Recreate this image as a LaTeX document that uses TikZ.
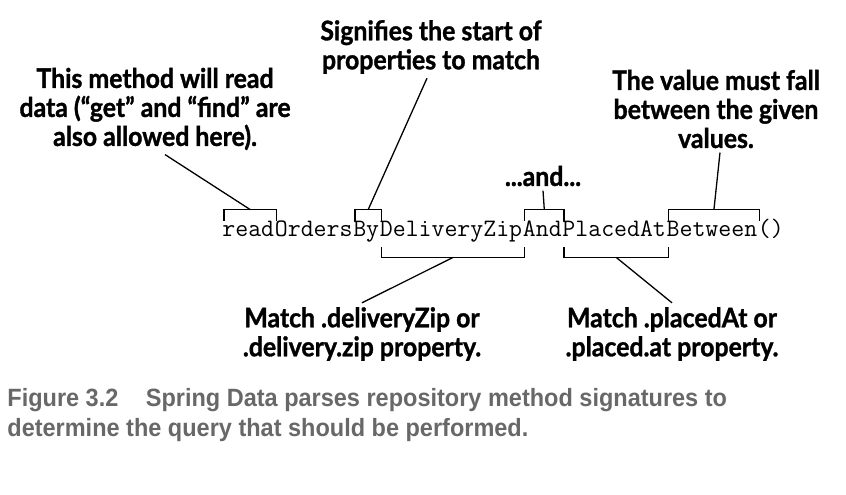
\documentclass[tikz,border=0pt]{standalone}
\usepackage{fontspec}
\newfontfamily\calloutfont[FakeStretch=0.92,FakeBold=1.2]{Lato}
\newfontfamily\captionfont[FakeStretch=0.94]{Liberation Sans}
\usetikzlibrary{positioning}
\definecolor{captiongray}{HTML}{686868}

\begin{document}
\begin{tikzpicture}[x=0.5pt,y=-0.5pt,
      linkstyle/.style={line width=0.65pt},
      calloutnode/.style={font=\calloutfont\bfseries\fontsize{13.5}{14.5}\selectfont, align=center, inner sep=2pt}]
      % A style for the pieces of the method name
      \tikzstyle{codepart} = [inner xsep=0pt, inner ysep=0pt, text height=7.5pt, text depth=5.5pt, font=\ttfamily\fontsize{12.55}{14}\selectfont]

      \useasboundingbox (0,0) rectangle (846,494);

      % The method name, piece by piece
      \node (read)    [codepart, anchor=base west] at (222,236) {read};
      \node (orders)  [codepart, base right=0pt of read] {Orders};
      \node (by)      [codepart, base right=0pt of orders] {By};
      \node (zip)     [codepart, base right=0pt of by] {DeliveryZip};
      \node (and)     [codepart, base right=0pt of zip] {And};
      \node (placed)  [codepart, base right=0pt of and] {PlacedAt};
      \node (between) [codepart, base right=0pt of placed] {Between};
      \node (parens)  [codepart, base right=0pt of between] {()};

      % Callouts above and below
      \node (lblread)    [calloutnode] at (155,109) {This method will read\\data (“get” and “find” are\\also allowed here).};
      \node (lblby)      [calloutnode] at (431,47) {Signifies the start of\\properties to match};
      \node (lbland)     [calloutnode] at (543,176) {...and...};
      \node (lblbetween) [calloutnode] at (716,109) {The value must fall\\between the given\\values.};
      \node (lblzip)     [calloutnode] at (362,334) {Match .deliveryZip or\\.delivery.zip property.};
      \node (lblplaced)  [calloutnode] at (672,334) {Match .placedAt or\\.placed.at property.};

      % Brackets over the name
      \draw[linkstyle] ([xshift=1pt]read.north west) -- ++(0,-11) -| ([xshift=1pt]read.north east);
      \draw[linkstyle] ([xshift=1pt]by.north west) -- ++(0,-11) -| ([xshift=1pt]by.north east);
      \draw[linkstyle] ([xshift=1pt]and.north west) -- ++(0,-11) -| ([xshift=1pt]and.north east);
      \draw[linkstyle] ([xshift=1pt]between.north west) -- ++(0,-11) -| ([xshift=1pt]between.north east);

      % Brackets under the name
      \draw[linkstyle] ([xshift=1pt]zip.south west) -- ++(0,10) -| ([xshift=1pt]zip.south east);
      \draw[linkstyle] ([xshift=1pt]placed.south west) -- ++(0,10) -| ([xshift=1pt]placed.south east);

      % Lines from the callouts
      \draw[linkstyle] ([xshift=5pt]lblread.south) -- ([xshift=1pt,yshift=5.5pt]read.north);
      \draw[linkstyle] ([xshift=-2pt]lblby.south) -- ([xshift=1pt,yshift=5.5pt]by.north);
      \draw[linkstyle] (lbland.south) -- ([xshift=1pt,yshift=5.5pt]and.north);
      \draw[linkstyle] ([xshift=2pt]lblbetween.south) -- ([xshift=1pt,yshift=5.5pt]between.north);
      \draw[linkstyle] ([xshift=1pt,yshift=-5pt]zip.south) -- (lblzip.north);
      \draw[linkstyle] ([xshift=1pt,yshift=-5pt]placed.south) -- (lblplaced.north);

      % Caption
      \node (caption) [anchor=west, align=left, inner sep=0pt, text=captiongray,
        font=\captionfont\bfseries\fontsize{12.5}{15}\selectfont] at (7,415)
        {Figure 3.2\hspace{1.1em}Spring Data parses repository method signatures to\\determine the query that should be performed.};
\end{tikzpicture}
\end{document}
